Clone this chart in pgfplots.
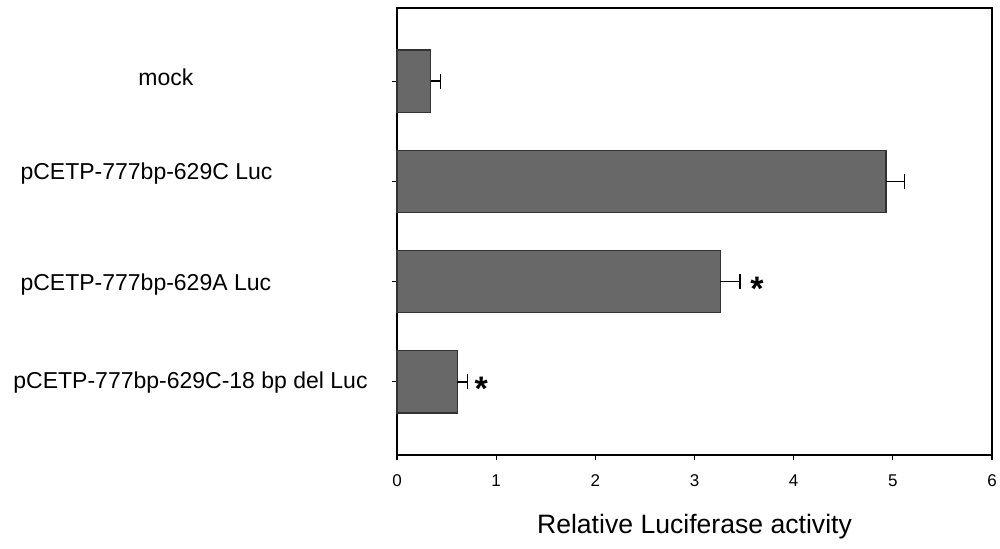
\documentclass[border=0pt]{standalone}
\usepackage{pgfplots}
\pgfplotsset{compat=1.18}
\usepackage{fontspec}
\setmainfont{Liberation Sans}
\definecolor{barfill}{RGB}{104,104,104}
\definecolor{baredge}{RGB}{50,50,50}
\begin{document}
\begin{tikzpicture}
\begin{axis}[
 scale only axis, width=297.5pt, height=223.5pt,
 xmin=0, xmax=6, ymin=-0.73, ymax=3.73, y dir=reverse,
 xbar, bar width=0.62,
 xtick={0,...,6}, ytick={0,1,2,3}, yticklabels={},
 xtick pos=bottom, ytick pos=left, tick align=outside,
 major tick length=2.5pt,
 tick style={black, line width=0.6pt},
 axis line style={line width=0.6pt},
 ticklabel style={font=\fontsize{8.5}{10}\selectfont},
 xticklabel shift=4pt,
 /pgf/number format/assume math mode=true,
 clip=false,
]
\addplot[fill=barfill, draw=baredge, line width=0.6pt,
  error bars/.cd, x dir=plus, x explicit, error mark=|,
  error bar style={black, line width=0.7pt},
  error mark options={black, line width=0.7pt, mark size=3.8pt}]
 table[x=x, y=y, x error=e] {
 x y e
 0.34 0 0.10
 4.93 1 0.19
 3.26 2 0.20
 0.61 3 0.10
 };
\coordinate (sw) at (axis description cs:0,0);
\coordinate (ne) at (axis description cs:1,1);
\node[anchor=west, inner sep=0, font=\fontsize{11.5}{13}\selectfont] at (axis cs:-2.612,-0.04) {mock};
\node[anchor=west, inner sep=0, font=\fontsize{11.5}{13}\selectfont] at (axis cs:-3.80,0.917) {pCETP-777bp-629C Luc};
\node[anchor=west, inner sep=0, font=\fontsize{11.5}{13}\selectfont] at (axis cs:-3.80,2.03) {pCETP-777bp-629A Luc};
\node[anchor=west, inner sep=0, font=\fontsize{11.5}{13}\selectfont] at (axis cs:-3.872,3.01) {pCETP-777bp-629C-18 bp del Luc};
\node[inner sep=0, font=\fontsize{17}{19}\selectfont\bfseries] at (axis cs:3.63,2.07) {*};
\node[inner sep=0, font=\fontsize{17}{19}\selectfont\bfseries] at (axis cs:0.85,3.07) {*};
\node[inner sep=0, font=\fontsize{13.3}{16}\selectfont, yshift=-36pt] at (axis description cs:0.5,0) {Relative Luciferase activity};
\end{axis}
\pgfresetboundingbox
\path[use as bounding box] ([xshift=-198.5pt,yshift=-46.5pt]sw) rectangle ([xshift=4pt,yshift=4pt]ne);
\end{tikzpicture}
\end{document}
